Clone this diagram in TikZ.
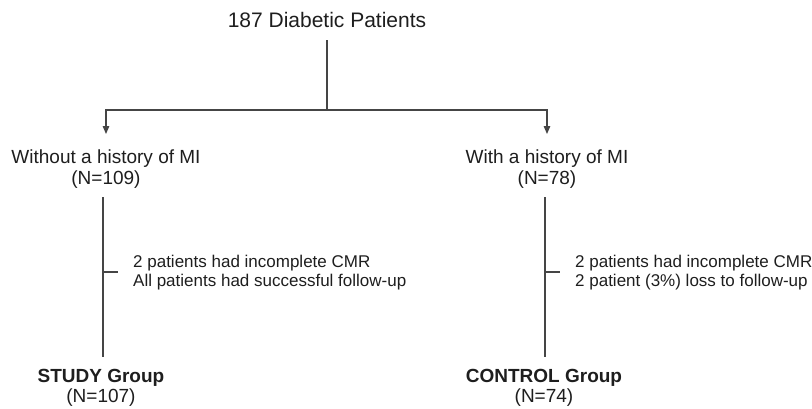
\documentclass[tikz,border=0pt]{standalone}
\usepackage{fontspec}
\setmainfont{Liberation Sans}
\usetikzlibrary{arrows.meta}
\definecolor{linegray}{HTML}{454545}
\definecolor{textgray}{HTML}{1E1E1E}
\tikzset{
    lbl/.style={inner sep=0pt,text=textgray,align=center,anchor=base,font=\fontsize{19}{21}\selectfont},
    note/.style={inner sep=0pt,text=textgray,align=left,anchor=base west,font=\fontsize{17}{19}\selectfont},
    conn/.style={draw=linegray,line width=1.3pt},
    arr/.style={conn,-{Triangle[length=8pt,width=6.5pt]}}
}

\begin{document}
\begin{tikzpicture}[x=1pt,y=-1pt]
    \useasboundingbox (0,0) rectangle (812,408);
    \node[lbl,font=\fontsize{21}{25}\selectfont] (total) at (327,27) {187 Diabetic Patients};
    \node[lbl] (nomi) at (106,184) {Without a history of MI\\(N=109)};
    \node[lbl] (withmi) at (547,184) {With a history of MI\\(N=78)};
    \node[note] (lnote) at (133,286) {2 patients had incomplete CMR\\All patients had successful follow-up};
    \node[note] (rnote) at (575,286) {2 patients had incomplete CMR\\2 patient (3\%) loss to follow-up};
    \node[lbl,font=\fontsize{19}{20}\selectfont] (study) at (101,402) {\textbf{STUDY Group}\\(N=107)};
    \node[lbl,font=\fontsize{19}{20}\selectfont] (control) at (544,402) {\textbf{CONTROL Group}\\(N=74)};
    % split into the two branches
    \coordinate (split) at (327,110);
    \draw[conn,shorten <=13pt] (total.south) -- (split);
    \draw[arr,shorten >=15pt] (split) -| (nomi.north);
    \draw[arr,shorten >=15pt] (split) -| (withmi.north);
    \foreach \mytop/\mynote/\myx in {nomi/lnote/103,withmi/rnote/545}{
        \coordinate (\mytop-a) at (\myx,197);
        \coordinate (\mytop-b) at (\myx,357);
        \draw[conn] (\mytop-a) -- (\mytop-b);
        \draw[conn,shorten >=15pt] (\mynote.west -| \mytop-a) -- (\mynote.west);
    }
\end{tikzpicture}
\end{document}
